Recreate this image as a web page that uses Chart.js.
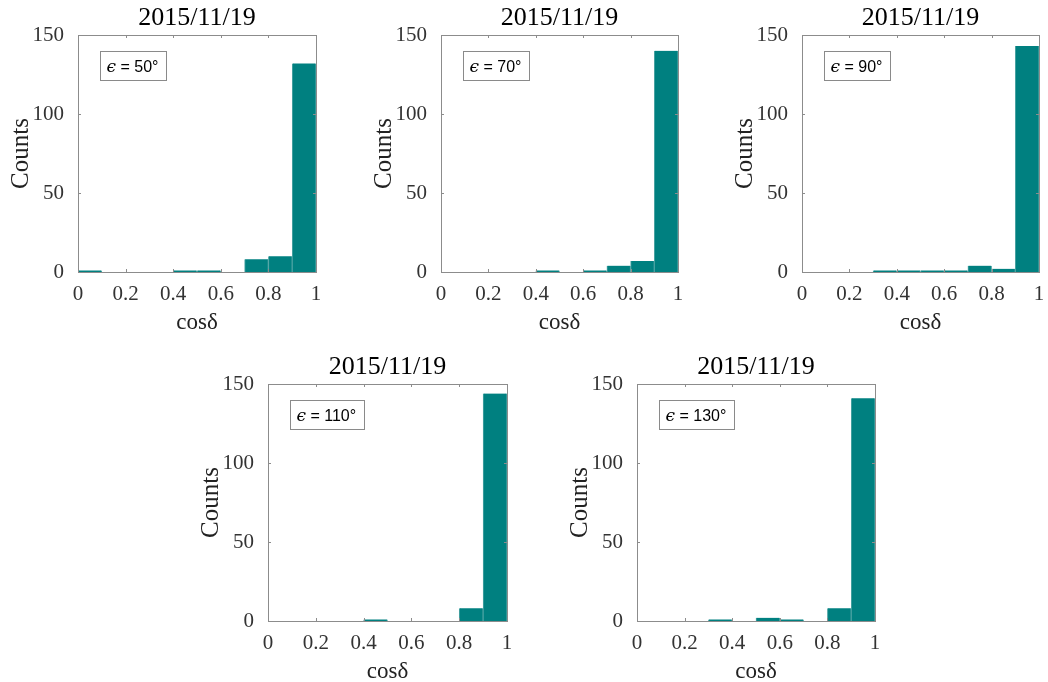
<!DOCTYPE html>
<html>
<head>
<meta charset="utf-8">
<script src="https://cdn.jsdelivr.net/npm/chart.js@4.4.1/dist/chart.umd.min.js"></script>
<style>
  body{margin:0;background:#fff;}
  .wrap{position:absolute;}
</style>
</head>
<body>
<div class="wrap" id="w1"><canvas id="c1"></canvas></div>
<div class="wrap" id="w2"><canvas id="c2"></canvas></div>
<div class="wrap" id="w3"><canvas id="c3"></canvas></div>
<div class="wrap" id="w4"><canvas id="c4"></canvas></div>
<div class="wrap" id="w5"><canvas id="c5"></canvas></div>
<script>
// bin centres of cos(delta), 10 bins on [0,1]
const binCenters=[0.05,0.15,0.25,0.35,0.45,0.55,0.65,0.75,0.85,0.95];
const xTicks=[0,0.2,0.4,0.6,0.8,1];
const yTicks=[0,50,100,150];
const titleText="2015/11/19";

const counts50 =[1,0,0,0,1,1,0,8,10,132];
const counts70 =[0,0,0,0,1,0,1,4,7,140];
const counts90 =[0,0,0,1,1,1,1,4,2,143];
const counts110=[0,0,0,0,1,0,0,0,8,144];
const counts130=[0,0,0,1,0,2,1,0,8,141];

const epsValues=["50°","70°","90°","110°","130°"];

// plot boxes: left, top, width, height
const panels=[
  {id:"1",counts:counts50, left:78, top:35, w:238,h:237},
  {id:"2",counts:counts70, left:441,top:35, w:237,h:237},
  {id:"3",counts:counts90, left:802,top:35, w:237,h:237},
  {id:"4",counts:counts110,left:268,top:384,w:239,h:237},
  {id:"5",counts:counts130,left:637,top:384,w:238,h:237}
];

const serif="'Liberation Serif', 'Times New Roman', serif";
const axisGray="#8c8c8c";
const YW=78, TH=35, XH=65, PR=14;

// title over the plot, box around the axes, inward ticks and the epsilon label
const boxPlugin={
  id:"box",
  afterDatasetsDraw(chart,args,opts){
    const ctx=chart.ctx, a=chart.chartArea;
    const xs=chart.scales.x, ys=chart.scales.y;
    ctx.save();
    ctx.fillStyle="#000";
    ctx.font="26px "+serif;
    ctx.textAlign="center";
    ctx.textBaseline="middle";
    ctx.fillText(titleText,(a.left+a.right)/2,a.top-17);
    ctx.textAlign="left";

    ctx.strokeStyle=axisGray;
    ctx.lineWidth=1;
    ctx.beginPath();
    for(const v of xTicks){
      const px=Math.round(xs.getPixelForValue(v))+0.5;
      ctx.moveTo(px,a.bottom);ctx.lineTo(px,a.bottom-3);
      ctx.moveTo(px,a.top);ctx.lineTo(px,a.top+3);
    }
    for(const v of yTicks){
      const py=Math.round(ys.getPixelForValue(v))+0.5;
      ctx.moveTo(a.left,py);ctx.lineTo(a.left+3,py);
      ctx.moveTo(a.right,py);ctx.lineTo(a.right-3,py);
    }
    ctx.stroke();
    ctx.strokeRect(Math.round(a.left)+0.5,Math.round(a.top)+0.5,Math.round(a.right-a.left),Math.round(a.bottom-a.top));
    // legend-like label box: italic epsilon, then "= value"
    const epsFont="italic 17px 'DejaVu Serif', serif";
    const restFont="16px 'Liberation Sans', Arial, sans-serif";
    const rest=" = "+opts.value;
    ctx.font=epsFont;
    const ew=ctx.measureText("ϵ").width;
    ctx.font=restFont;
    const rw=ctx.measureText(rest).width;
    const bx=Math.round(a.left+22)+0.5, by=Math.round(a.top+16)+0.5;
    const bw=Math.round(ew+rw+14), bh=29;
    ctx.fillStyle="#fff";
    ctx.fillRect(bx,by,bw,bh);
    ctx.strokeStyle="#8a8a8a";
    ctx.strokeRect(bx,by,bw,bh);
    ctx.fillStyle="#000";
    ctx.textBaseline="alphabetic";
    ctx.font=epsFont;
    ctx.fillText("ϵ",bx+6,by+20);
    ctx.font=restFont;
    ctx.fillText(rest,bx+6+ew,by+20);
    ctx.restore();
  }
};

panels.forEach((p,i)=>{
  const wrap=document.getElementById("w"+p.id);
  const W=YW+p.w+PR, H=TH+p.h+XH;
  wrap.style.left=(p.left-YW)+"px";
  wrap.style.top=(p.top-TH)+"px";
  wrap.style.width=W+"px";
  wrap.style.height=H+"px";
  const canvas=document.getElementById("c"+p.id);

  new Chart(canvas,{
    type:"bar",
    data:{
      labels:binCenters,
      datasets:[{
        data:binCenters.map((x,k)=>({x:x,y:p.counts[k]})),
        backgroundColor:"#008080",
        borderColor:"#4aa3a3",
        borderWidth:{left:1,right:1,top:0,bottom:0},
        barPercentage:1,
        categoryPercentage:1
      }]
    },
    plugins:[boxPlugin],
    options:{
      responsive:true,
      maintainAspectRatio:false,
      animation:false,
      layout:{padding:{left:0,right:PR,top:TH,bottom:0}},
      plugins:{
        legend:{display:false},
        tooltip:{enabled:false},
        title:{display:false},
        box:{value:epsValues[i]}
      },
      scales:{
        x:{
          type:"linear",
          min:0,max:1,
          offset:false,
          afterBuildTicks(s){ s.ticks=xTicks.map(v=>({value:v})); },
          afterFit(s){ s.height=XH; },
          grid:{display:false},
          border:{display:false},
          ticks:{
            color:"#333",
            font:{family:serif,size:21},
            padding:2,
            maxRotation:0,
            callback:v=>String(v)
          },
          title:{
            display:true,
            text:"cosδ",
            color:"#222",
            font:{family:serif,size:23},
            padding:{top:0,bottom:0}
          }
        },
        y:{
          min:0,max:150,
          afterBuildTicks(s){ s.ticks=yTicks.map(v=>({value:v})); },
          afterFit(s){ s.width=YW; },
          grid:{display:false},
          border:{display:false},
          ticks:{
            color:"#333",
            font:{family:serif,size:21},
            padding:6
          },
          title:{
            display:true,
            text:"Counts",
            color:"#222",
            font:{family:serif,size:25},
            padding:{top:6,bottom:0}
          }
        }
      }
    }
  });
});
</script>
</body>
</html>
